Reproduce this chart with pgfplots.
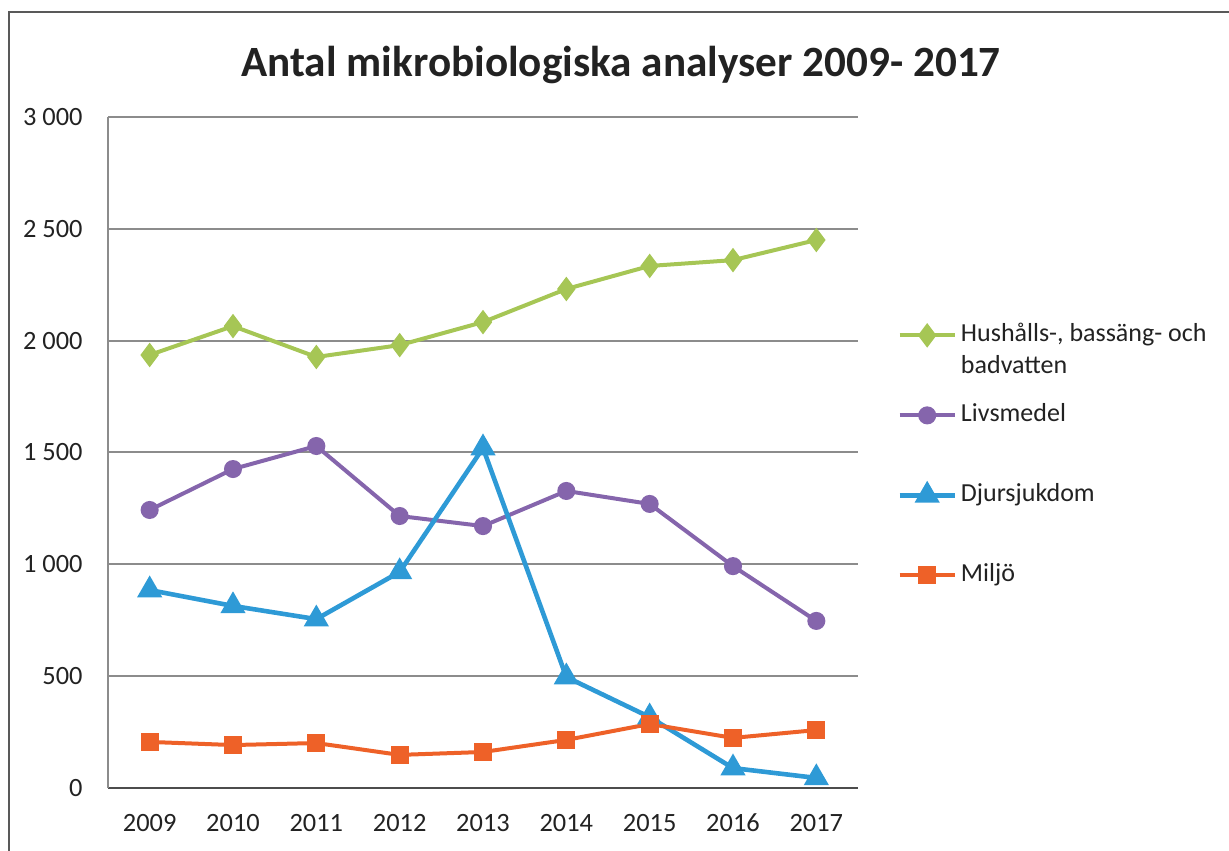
\documentclass[border=0pt]{standalone}
\usepackage{fontspec}
\setmainfont{Carlito}
\usepackage{pgfplots}
\pgfplotsset{compat=1.18}
\definecolor{cgreen}{HTML}{A6C655}
\definecolor{cpurple}{HTML}{8565AC}
\definecolor{cblue}{HTML}{2E9AD6}
\definecolor{corange}{HTML}{EE6128}
\definecolor{ctext}{HTML}{222222}
\begin{document}
\begin{tikzpicture}
\path[use as bounding box] (0,0) rectangle (614.5pt,425pt);
\draw[line width=1pt, black!65] (4.5pt,-2pt) -- (4.5pt,419pt) -- (617pt,419pt);
\node[anchor=base, font=\fontsize{21.6}{26}\selectfont\bfseries, text=ctext, inner sep=0pt] at (310.5pt,386.5pt) {Antal mikrobiologiska analyser 2009- 2017};
\begin{axis}[
  at={(54pt,31pt)}, anchor=south west,
  scale only axis, width=375pt, height=335.5pt,
  xmin=-0.5, xmax=8.5, ymin=0, ymax=3000,
  axis x line*=bottom, axis y line*=left,
  axis line style={-},
  x axis line style={black!70, line width=1pt},
  y axis line style={black!45, line width=1pt},
  ymajorgrids, major grid style={black!45, line width=1pt},
  major tick length=0pt,
  xtick={0,...,8},
  xticklabels={2009,2010,2011,2012,2013,2014,2015,2016,2017},
  ytick={0,500,1000,1500,2000,2500,3000},
  yticklabels={0,500,1 000,1 500,2 000,2 500,3 000},
  ticklabel style={font=\fontsize{13.2}{15}\selectfont, text=ctext},
  xticklabel style={text height=9pt, text depth=0pt, yshift=-9.2pt},
  yticklabel style={xshift=-9.2pt},
  clip=false,
  legend style={at={(1.052,0.696)}, anchor=north west, draw=none, fill=none, inner sep=0pt,
    row sep=26pt, column sep=0pt, font=\fontsize{13}{16}\selectfont, text=ctext,
    nodes={text height=8pt, text depth=2pt, inner sep=2pt}},
  legend cell align=left,
  legend image code/.code={\draw[mark repeat=2,mark phase=2,#1] plot coordinates {(0pt,0pt) (13.75pt,0pt) (27.5pt,0pt)};},
]
\addplot[cgreen, line width=2pt, mark=diamond*, mark size=4.5pt, mark options={solid, fill=cgreen}]
  coordinates {(0,1936) (1,2065) (2,1927) (3,1980) (4,2083) (5,2231) (6,2334) (7,2360) (8,2450)};
\addlegendentry{\begin{tabular}[t]{@{}l@{}}Hushålls-, bassäng- och\\badvatten\end{tabular}}
\addplot[cpurple, line width=2pt, mark=*, mark size=3.5pt, mark options={solid, fill=cpurple}]
  coordinates {(0,1243) (1,1426) (2,1529) (3,1216) (4,1171) (5,1328) (6,1270) (7,992) (8,747)};
\addlegendentry{Livsmedel}
\addplot[cblue, line width=2.3pt, mark=triangle*, mark size=5pt, mark options={solid, fill=cblue}]
  coordinates {(0,885) (1,814) (2,755) (3,966) (4,1520) (5,496) (6,317) (7,89) (8,45)};
\addlegendentry{Djursjukdom}
\addplot[corange, line width=2pt, mark=square*, mark size=3.5pt, mark options={solid, fill=corange}]
  coordinates {(0,206) (1,192) (2,201) (3,148) (4,161) (5,215) (6,286) (7,224) (8,259)};
\addlegendentry{Miljö}
\end{axis}
\end{tikzpicture}
\end{document}
